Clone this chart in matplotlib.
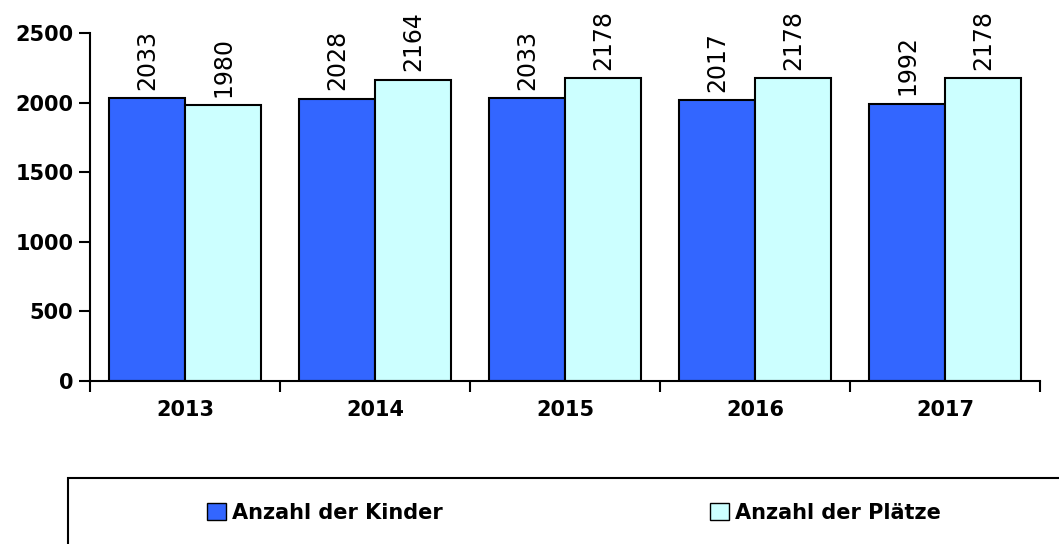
import numpy as np
import matplotlib.pyplot as plt
from matplotlib.patches import Rectangle, Patch

years = ['2013', '2014', '2015', '2016', '2017']
kinder = [2033, 2028, 2033, 2017, 1992]
plaetze = [1980, 2164, 2178, 2178, 2178]

blau = '#3366FF'
hellblau = '#CCFFFF'

fig = plt.figure(figsize=(10.59, 5.44), dpi=100)
ax = fig.add_axes([0.085, 0.2996, 0.897, 0.6397])

x = np.arange(len(years))
w = 0.4
b1 = ax.bar(x - w / 2, kinder, w, color=blau, edgecolor='black', linewidth=1.5)
b2 = ax.bar(x + w / 2, plaetze, w, color=hellblau, edgecolor='black', linewidth=1.5)

# Werte über den Balken, senkrecht
for bars in (b1, b2):
    for r in bars:
        ax.annotate(str(int(r.get_height())), (r.get_x() + r.get_width() / 2, r.get_height()),
                    xytext=(0, 6), textcoords='offset points', rotation=90,
                    ha='center', va='bottom', fontsize=17, annotation_clip=False)

ax.set_xlim(-0.5, len(years) - 0.5)
ax.set_ylim(0, 2500)
ax.set_yticks([0, 500, 1000, 1500, 2000, 2500])
ax.set_xticks(np.arange(len(years) + 1) - 0.5)
ax.set_xticklabels([])
ax.set_xticks(x, minor=True)
ax.set_xticklabels(years, minor=True)
ax.tick_params(axis='x', which='major', length=8, width=1.5, direction='out')
ax.tick_params(axis='x', which='minor', length=0, pad=14, labelsize=15)
ax.tick_params(axis='y', length=8, width=1.5, labelsize=15, pad=4)
for lbl in ax.get_xticklabels(minor=True) + ax.get_yticklabels():
    lbl.set_fontweight('bold')
ax.spines['top'].set_visible(False)
ax.spines['right'].set_visible(False)
ax.spines['left'].set_linewidth(1.5)
ax.spines['bottom'].set_linewidth(1.5)

# Legendenrahmen
fig.patches.append(Rectangle((68 / 1059, -0.1), 1.0, (544 - 478) / 544 + 0.1,
                             transform=fig.transFigure, fill=False,
                             edgecolor='black', linewidth=1.5))
handles = [Patch(facecolor=blau, edgecolor='black'), Patch(facecolor=hellblau, edgecolor='black')]
fig.legend(handles, ['Anzahl der Kinder', 'Anzahl der Plätze'], ncol=2, frameon=False,
           loc='center left', bbox_to_anchor=(188 / 1059, (544 - 513) / 544),
           prop={'size': 15, 'weight': 'bold'}, handlelength=0.9, handleheight=0.9,
           handletextpad=0.3, columnspacing=12.85)

fig.savefig('out.png', dpi=100)
